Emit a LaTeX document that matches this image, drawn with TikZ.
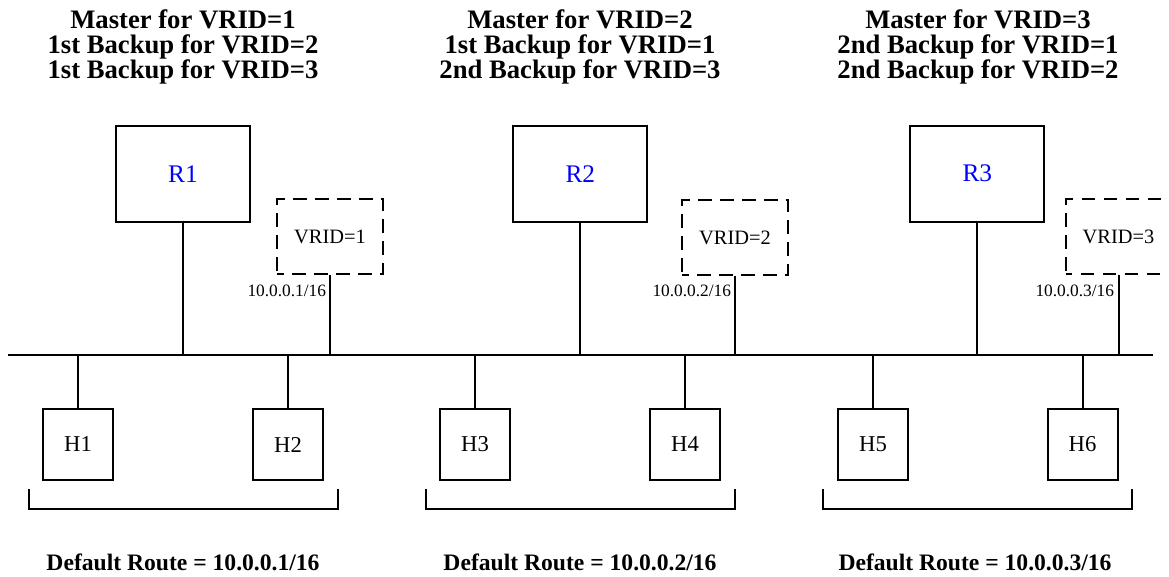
\documentclass[tikz,border=0pt]{standalone}
\usepackage{fontspec}
\setmainfont{Liberation Serif}
\begin{document}
\begin{tikzpicture}[x=0.75pt,y=-0.75pt,
  line width=1.5pt,
  rbox/.style={draw,minimum width=100.5pt,minimum height=72pt,inner sep=0pt,
    font=\fontsize{19}{20}\selectfont,text=blue},
  vbox/.style={draw,dash pattern=on 10pt off 6.5pt,dash phase=5pt,minimum width=79.5pt,minimum height=56.25pt,inner sep=0pt,
    font=\fontsize{15.3}{17}\selectfont},
  hbox/.style={draw,minimum width=52.5pt,minimum height=53.25pt,inner sep=0pt,
    font=\fontsize{17}{18}\selectfont},
  title/.style={anchor=base,inner sep=0pt,font=\fontsize{20}{22}\selectfont\bfseries},
  route/.style={anchor=base,inner sep=0pt,font=\fontsize{17.7}{19}\selectfont\bfseries},
  ip/.style={anchor=base east,inner sep=0pt,font=\fontsize{13}{14}\selectfont},
  bracket/.style={line width=1.5pt}]
\useasboundingbox (0,0) rectangle (1169,576);

% titles
\node[title] (t1a) at (183,28) {Master for VRID=1};
\node[title] (t1b) at (183,53) {1st Backup for VRID=2};
\node[title] (t1c) at (183,78) {1st Backup for VRID=3};
\node[title] (t2a) at (580,28) {Master for VRID=2};
\node[title] (t2b) at (580,53) {1st Backup for VRID=1};
\node[title] (t2c) at (580,78) {2nd Backup for VRID=3};
\node[title] (t3a) at (978,28) {Master for VRID=3};
\node[title] (t3b) at (978,53) {2nd Backup for VRID=1};
\node[title] (t3c) at (978,78) {2nd Backup for VRID=2};

% bus
\coordinate (busL) at (8,355);
\coordinate (busR) at (1153,355);
\draw (busL) -- (busR);

% routers
\node[rbox] (R1) at (183,173.7) {R1};
\node[rbox] (R2) at (580.3,173.7) {R2};
\node[rbox] (R3) at (977.3,173.7) {R3};
\foreach \r in {R1,R2,R3} \draw (\r.south) -- (\r.south |- busL);

% virtual routers
\begin{scope}
\clip (0,0) rectangle (1169,576);
\node[vbox] (V1) at (330,236.5) {VRID=1};
\node[vbox] (V2) at (735,237.5) {VRID=2};
\node[vbox] (V3) at (1118.5,236.5) {VRID=3};
\end{scope}
\foreach \v in {V1,V2,V3} \draw (\v.south) -- (\v.south |- busL);

\node[ip] (ip1) at (327,296) {10.0.0.1/16};
\node[ip] (ip2) at (732,296) {10.0.0.2/16};
\node[ip] (ip3) at (1115,296) {10.0.0.3/16};

% hosts
\node[hbox] (H1) at (78,444.5) {H1};
\node[hbox] (H2) at (288,444.5) {H2};
\node[hbox] (H3) at (475,444.5) {H3};
\node[hbox] (H4) at (685,444.5) {H4};
\node[hbox] (H5) at (873,444.5) {H5};
\node[hbox] (H6) at (1082.5,444.5) {H6};
\foreach \h in {H1,H2,H3,H4,H5,H6} \draw (\h.north) -- (\h.north |- busL);

% brackets
\draw[bracket] (29,489) -- (29,509) -- (338,509) -- (338,489);
\draw[bracket] (426,489) -- (426,509) -- (735,509) -- (735,489);
\draw[bracket] (823,489) -- (823,509) -- (1132,509) -- (1132,489);

% routes
\node[route] (d1) at (183,570) {Default Route = 10.0.0.1/16};
\node[route] (d2) at (580,570) {Default Route = 10.0.0.2/16};
\node[route] (d3) at (975,570) {Default Route = 10.0.0.3/16};
\end{tikzpicture}
\end{document}
